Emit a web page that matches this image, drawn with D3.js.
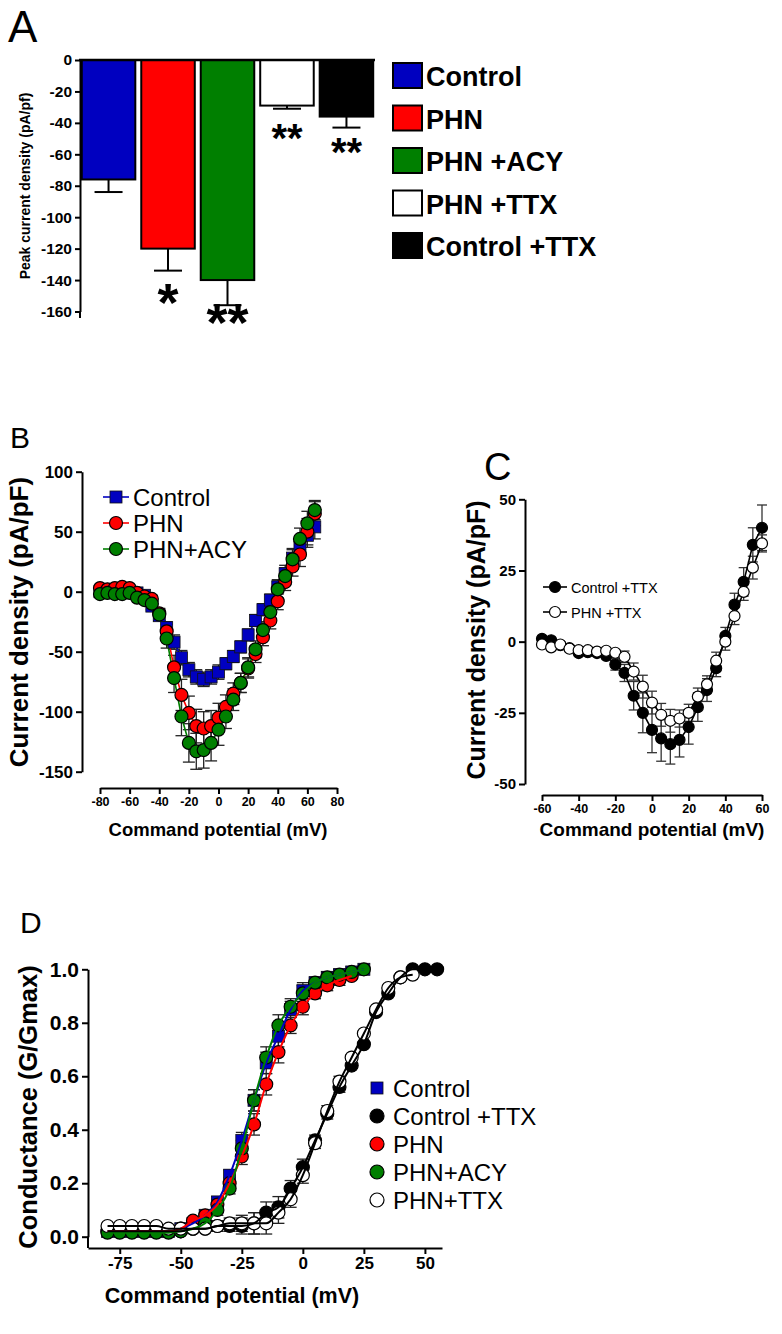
<!DOCTYPE html>
<html lang="en">
<head>
<meta charset="UTF-8">
<title>Peak current density and conductance</title>
<script src="https://cdn.jsdelivr.net/npm/d3@7/dist/d3.min.js"></script>
<style>
  body { margin: 0; background: #fff; }
  svg text { font-family: Arial, "Liberation Sans", sans-serif; }
</style>
</head>
<body>
<svg id="fig" width="782" height="1334"></svg>
<script>
// ---- Panel A: peak current density (bar chart)
const groupsA = ["Control", "PHN", "PHN +ACY", "PHN +TTX", "Control +TTX"];
const peakA = [-76, -120, -140, -29, -36];
const peakErrA = [8, 14, 16, 2, 7];
const starsA = ["", "*", "**", "**", "**"];
const colorsA = ["#0000c0", "#ff0000", "#007f00", "#ffffff", "#000000"];
const ticksA = [0, -20, -40, -60, -80, -100, -120, -140, -160];

// ---- Panel B: I-V curves
const voltB = [-80, -75, -70, -65, -60, -55, -50, -45, -40, -35, -30, -25, -20, -15, -10,
  -5, 0, 5, 10, 15, 20, 25, 30, 35, 40, 45, 50, 55, 60, 65];
const controlB = [0, 0, 0, 0, 0, -1, -3, -12, -20, -30, -42, -55, -65, -71, -73,
  -71, -67, -60, -54, -46, -36, -24, -15, -7, 4, 15, 28, 37, 47, 54];
const controlErrB = [1, 1, 1, 1, 1, 1, 2, 3, 4, 5, 6, 6, 6, 6, 6,
  6, 6, 5, 5, 5, 5, 5, 5, 5, 6, 7, 8, 9, 10, 10];
const phnB = [3, 2, 3, 4, 3, -1, -4, -6, -18, -33, -63, -86, -101, -112, -114,
  -112, -105, -96, -85, -76, -64, -52, -38, -24, -8, 8, 21, 31, 50, 65];
const phnErrB = [2, 2, 2, 2, 2, 2, 2, 3, 4, 6, 10, 13, 14, 14, 14,
  13, 12, 10, 9, 8, 8, 7, 7, 7, 7, 7, 8, 10, 11, 10];
const acyB = [-2, -1, -2, -2, -1, -5, -7, -10, -19, -39, -72, -104, -126, -133, -132,
  -126, -115, -104, -90, -76, -63, -48, -32, -17, 2, 13, 27, 44, 57, 68];
const acyErrB = [2, 2, 2, 2, 2, 2, 2, 3, 5, 8, 12, 16, 16, 15, 15,
  15, 13, 10, 9, 8, 8, 7, 7, 7, 7, 7, 8, 9, 10, 8];
const yTicksB = [100, 50, 0, -50, -100, -150];
const xTicksB = [-80, -60, -40, -20, 0, 20, 40, 60, 80];

// ---- Panel C: I-V curves with TTX
const voltC = [-60, -55, -50, -45, -40, -35, -30, -25, -20, -15, -10, -5, 0,
  5, 10, 15, 20, 25, 30, 35, 40, 45, 50, 55, 60];
const ctrlTtxC = [1, 0.5, -1.2, -2.3, -4, -3.7, -4, -5, -8, -11, -19, -25, -31,
  -34, -36, -34.5, -30, -23, -17, -9.3, 2, 13, 21, 34, 40];
const ctrlTtxErrC = [1, 1, 1, 1, 1, 1, 1, 1, 2, 3, 5, 7, 8,
  8, 7, 6, 6, 5, 4, 3, 3, 4, 5, 6, 8];
const phnTtxC = [-1, -2, -1, -2.5, -3, -3, -3.5, -3.2, -3.9, -5.3, -10.5, -15.8, -21.4,
  -25.7, -27.8, -27, -25, -19.3, -15, -6.7, 0, 9, 17.5, 26, 34.5];
const phnTtxErrC = [1, 1, 1, 1, 1, 1, 1, 1, 1, 2, 3, 4, 4,
  4, 4, 3, 3, 3, 3, 3, 3, 3, 3, 4, 3];
const yTicksC = [50, 25, 0, -25, -50];
const xTicksC = [-60, -40, -20, 0, 20, 40, 60];

// ---- Panel D: conductance (G/Gmax)
const voltD = [-80, -75, -70, -65, -60, -55, -50, -45, -40, -35, -30, -25, -20, -15,
  -10, -5, 0, 5, 10, 15, 20, 25, 30, 35, 40, 45, 50, 55];
const controlD = [0.02, 0.02, 0.02, 0.02, 0.02, 0.02, 0.03, 0.05, 0.08, 0.13, 0.23, 0.36,
  0.51, 0.65, 0.75, 0.85, 0.92, 0.95, 0.97, 0.98, 0.99, 1.0];
const phnD = [0.02, 0.02, 0.02, 0.02, 0.02, 0.02, 0.03, 0.06, 0.08, 0.12, 0.20, 0.30,
  0.42, 0.57, 0.69, 0.79, 0.86, 0.91, 0.94, 0.96, 0.975];
const acyD = [0.015, 0.015, 0.015, 0.015, 0.015, 0.015, 0.02, 0.03, 0.05, 0.10, 0.18, 0.33,
  0.51, 0.67, 0.79, 0.86, 0.91, 0.95, 0.97, 0.98, 0.99, 1.0];
const ctrlTtxD = [0.02, 0.02, 0.02, 0.02, 0.02, 0.02, 0.02, 0.03, 0.03, 0.04, 0.04, 0.04,
  0.05, 0.09, 0.11, 0.18, 0.26, 0.36, 0.46, 0.56, 0.64, 0.72, 0.84, 0.91, 0.97, 1.0, 1.0, 1.0];
const phnTtxD = [0.04, 0.04, 0.04, 0.04, 0.04, 0.03, 0.03, 0.03, 0.03, 0.04, 0.05, 0.05,
  0.05, 0.05, 0.09, 0.14, 0.23, 0.35, 0.47, 0.58, 0.67, 0.76, 0.85, 0.93, 0.97, 0.98];
const errD = [0.01, 0.01, 0.01, 0.01, 0.01, 0.01, 0.01, 0.01, 0.01, 0.02, 0.02, 0.03,
  0.04, 0.04, 0.04, 0.03, 0.03, 0.02, 0.02, 0.02, 0.01, 0.01, 0.01, 0.01, 0.01, 0.01, 0.01, 0.01];
const yTicksD = [0, 0.2, 0.4, 0.6, 0.8, 1.0];
const xTicksD = [-75, -50, -25, 0, 25, 50];

const BLUE = "#0000c0", RED = "#ff0000", GREEN = "#007f00";
const svg = d3.select("#fig");

function label(parent, x, y, s, size, weight, anchor, rot) {
  const t = parent.append("text")
    .attr("x", x).attr("y", y).text(s)
    .attr("font-size", size)
    .attr("font-weight", weight || "normal")
    .attr("text-anchor", anchor || "start");
  if (rot) t.attr("transform", `rotate(${rot},${x},${y})`);
  return t;
}

function styleAxis(g, size) {
  g.selectAll("path.domain, .tick line").attr("stroke", "#000").attr("stroke-width", 2);
  g.selectAll(".tick text").attr("font-size", size).attr("font-weight", "bold")
    .attr("fill", "#000").attr("font-family", "Arial, 'Liberation Sans', sans-serif");
}

function marker(g, cx, cy, shape, fill, size) {
  if (shape === "square") {
    g.append("rect").attr("x", cx - size).attr("y", cy - size)
      .attr("width", size * 2).attr("height", size * 2)
      .attr("fill", fill).attr("stroke", "#111").attr("stroke-width", 0.8);
  } else {
    g.append("circle").attr("cx", cx).attr("cy", cy).attr("r", size)
      .attr("fill", fill).attr("stroke", "#000").attr("stroke-width", 1.2);
  }
}

function errorBars(g, x, y, xs, ys, errs, cap, color) {
  xs.forEach((v, i) => {
    if (ys[i] === undefined || !errs[i]) return;
    const px = x(v), top = y(ys[i] + errs[i]), bot = y(ys[i] - errs[i]);
    g.append("line").attr("x1", px).attr("x2", px).attr("y1", top).attr("y2", bot)
      .attr("stroke", color).attr("stroke-width", 1.3);
    [top, bot].forEach(yy => g.append("line")
      .attr("x1", px - cap).attr("x2", px + cap).attr("y1", yy).attr("y2", yy)
      .attr("stroke", color).attr("stroke-width", 1.3));
  });
}

function seriesLine(g, x, y, xs, ys, color, width, curve) {
  const pts = ys.map((v, i) => [xs[i], v]);
  g.append("path").datum(pts)
    .attr("d", d3.line().x(d => x(d[0])).y(d => y(d[1])).curve(curve || d3.curveLinear))
    .attr("fill", "none").attr("stroke", color).attr("stroke-width", width);
}

function seriesMarks(g, x, y, xs, ys, shape, fill, size) {
  ys.forEach((v, i) => marker(g, x(xs[i]), y(v), shape, fill, size));
}

// ================= Panel A
const gA = svg.append("g");
label(gA, 8, 42, "A", 44);
const xA = d3.scaleBand().domain(groupsA).range([80, 375]).paddingInner(0.1).paddingOuter(0.03);
const yA = d3.scaleLinear().domain([-160, 0]).range([311.5, 60]);

groupsA.forEach((grp, i) => {
  const cx = xA(grp) + xA.bandwidth() / 2;
  const end = yA(peakA[i] - peakErrA[i]);
  gA.append("line").attr("x1", cx).attr("x2", cx).attr("y1", yA(peakA[i])).attr("y2", end)
    .attr("stroke", "#000").attr("stroke-width", 2);
  gA.append("line").attr("x1", cx - 14).attr("x2", cx + 14).attr("y1", end).attr("y2", end)
    .attr("stroke", "#000").attr("stroke-width", 2);
});
gA.selectAll("rect.bar").data(groupsA).join("rect")
  .attr("class", "bar")
  .attr("x", d => xA(d)).attr("width", xA.bandwidth())
  .attr("y", yA(0)).attr("height", (d, i) => yA(peakA[i]) - yA(0))
  .attr("fill", (d, i) => colorsA[i]).attr("stroke", "#000").attr("stroke-width", 2);

// significance stars sit just under each error bar
const starGapA = [0, 22, 8, 22, 18];
groupsA.forEach((grp, i) => {
  if (!starsA[i]) return;
  const cx = xA(grp) + xA.bandwidth() / 2;
  const fs = i < 3 ? 54 : 40;
  const centre = yA(peakA[i] - peakErrA[i]) + starGapA[i];
  label(gA, cx, centre + fs * 0.52, starsA[i], fs, "bold", "middle");
});

const axA = gA.append("g").attr("transform", "translate(80,0)")
  .call(d3.axisLeft(yA).tickValues(ticksA).tickFormat(d => String(d)).tickSize(5).tickSizeOuter(0));
styleAxis(axA, 15.5);
gA.append("line").attr("x1", 80).attr("x2", 80).attr("y1", yA(-160)).attr("y2", 318)
  .attr("stroke", "#000").attr("stroke-width", 2);
gA.append("line").attr("x1", 79).attr("x2", 375).attr("y1", yA(0)).attr("y2", yA(0))
  .attr("stroke", "#000").attr("stroke-width", 2.5);
label(gA, 30, 186, "Peak current density (pA/pf)", 14, "bold", "middle", -90);

// legend A
groupsA.forEach((grp, i) => {
  const top = 63 + i * 42.5;
  gA.append("rect").attr("x", 393).attr("y", top).attr("width", 29).attr("height", 25)
    .attr("fill", colorsA[i]).attr("stroke", "#000").attr("stroke-width", 2);
  label(gA, 426, top + 23, grp, 27, "bold");
});

// ================= Panel B
const gB = svg.append("g");
label(gB, 10, 448, "B", 30);
const xB = d3.scaleLinear().domain([-80, 80]).range([100, 337]);
const yB = d3.scaleLinear().domain([-150, 100]).range([771.7, 471.7]);

const ayB = gB.append("g").attr("transform", "translate(82,0)")
  .call(d3.axisLeft(yB).tickValues(yTicksB).tickFormat(d => String(d)).tickSize(6).tickSizeOuter(0));
styleAxis(ayB, 17);
const axB = gB.append("g").attr("transform", "translate(0,788)")
  .call(d3.axisBottom(xB).tickValues(xTicksB).tickFormat(d => String(d)).tickSize(6).tickSizeOuter(0));
styleAxis(axB, 12.5);
label(gB, 218, 836, "Command potential (mV)", 18.5, "bold", "middle");
label(gB, 28, 622, "Current density (pA/pF)", 26, "bold", "middle", -90);

errorBars(gB, xB, yB, voltB, controlB, controlErrB, 6, "#222");
errorBars(gB, xB, yB, voltB, phnB, phnErrB, 6, "#222");
errorBars(gB, xB, yB, voltB, acyB, acyErrB, 6, "#222");
seriesLine(gB, xB, yB, voltB, controlB, BLUE, 1.6);
seriesLine(gB, xB, yB, voltB, phnB, RED, 1.6);
seriesLine(gB, xB, yB, voltB, acyB, GREEN, 1.6);
seriesMarks(gB, xB, yB, voltB, controlB, "square", BLUE, 6);
seriesMarks(gB, xB, yB, voltB, phnB, "circle", RED, 6.5);
seriesMarks(gB, xB, yB, voltB, acyB, "circle", GREEN, 6.5);

[["Control", BLUE, "square"], ["PHN", RED, "circle"], ["PHN+ACY", GREEN, "circle"]].forEach((d, i) => {
  const cy = 497 + i * 26;
  gB.append("line").attr("x1", 103).attr("x2", 129).attr("y1", cy).attr("y2", cy)
    .attr("stroke", d[1]).attr("stroke-width", 1.6);
  marker(gB, 116, cy, d[2], d[1], d[2] === "square" ? 6 : 6.5);
  label(gB, 133, cy + 8.5, d[0], 24);
});

// ================= Panel C
const gC = svg.append("g");
label(gC, 484, 480, "C", 38);
const xC = d3.scaleLinear().domain([-60, 60]).range([542, 762]);
const yC = d3.scaleLinear().domain([-50, 50]).range([784, 499.3]);

const ayC = gC.append("g").attr("transform", "translate(525,0)")
  .call(d3.axisLeft(yC).tickValues(yTicksC).tickFormat(d => String(d)).tickSize(6).tickSizeOuter(0));
styleAxis(ayC, 15);
const axC = gC.append("g").attr("transform", "translate(0,795)")
  .call(d3.axisBottom(xC).tickValues(xTicksC).tickFormat(d => String(d)).tickSize(6).tickSizeOuter(0));
styleAxis(axC, 12.5);
label(gC, 652, 836, "Command potential (mV)", 19, "bold", "middle");
label(gC, 485, 640, "Current density (pA/pF)", 25, "bold", "middle", -90);

errorBars(gC, xC, yC, voltC, ctrlTtxC, ctrlTtxErrC, 5, "#333");
errorBars(gC, xC, yC, voltC, phnTtxC, phnTtxErrC, 5, "#333");
seriesLine(gC, xC, yC, voltC, ctrlTtxC, "#000", 1.6);
seriesLine(gC, xC, yC, voltC, phnTtxC, "#000", 1.6);
seriesMarks(gC, xC, yC, voltC, ctrlTtxC, "circle", "#000", 5.5);
seriesMarks(gC, xC, yC, voltC, phnTtxC, "circle", "#fff", 5.5);

[["Control +TTX", "#000"], ["PHN +TTX", "#fff"]].forEach((d, i) => {
  const cy = 587 + i * 25;
  gC.append("line").attr("x1", 543).attr("x2", 567).attr("y1", cy).attr("y2", cy)
    .attr("stroke", "#000").attr("stroke-width", 1.6);
  marker(gC, 555, cy, "circle", d[1], 5.5);
  label(gC, 571, cy + 5.5, d[0], 14.5);
});

// ================= Panel D
const gD = svg.append("g");
label(gD, 20, 933, "D", 30);
const xD = d3.scaleLinear().domain([-88, 57]).range([88, 442]);
const yD = d3.scaleLinear().domain([0, 1]).range([1236.7, 969.3]);

const ayD = gD.append("g").attr("transform", "translate(88,0)")
  .call(d3.axisLeft(yD).tickValues(yTicksD).tickFormat(d3.format(".1f")).tickSize(6).tickSizeOuter(0));
styleAxis(ayD, 21);
gD.append("line").attr("x1", 88).attr("x2", 88).attr("y1", yD(0)).attr("y2", 1248)
  .attr("stroke", "#000").attr("stroke-width", 2);
const axD = gD.append("g").attr("transform", "translate(0,1248)")
  .call(d3.axisBottom(xD).tickValues(xTicksD).tickFormat(d => String(d)).tickSize(6).tickSizeOuter(0));
styleAxis(axD, 17);
label(gD, 232, 1303, "Command potential (mV)", 21.5, "bold", "middle");
label(gD, 37, 1107, "Conductance (G/Gmax)", 25.5, "bold", "middle", -90);

errorBars(gD, xD, yD, voltD, controlD, errD, 6, "#222");
errorBars(gD, xD, yD, voltD, ctrlTtxD, errD, 6, "#222");
errorBars(gD, xD, yD, voltD, phnD, errD, 6, "#222");
errorBars(gD, xD, yD, voltD, acyD, errD, 6, "#222");
errorBars(gD, xD, yD, voltD, phnTtxD, errD, 6, "#222");
seriesMarks(gD, xD, yD, voltD, controlD, "square", BLUE, 6);
seriesMarks(gD, xD, yD, voltD, ctrlTtxD, "circle", "#000", 6.5);
seriesMarks(gD, xD, yD, voltD, phnD, "circle", RED, 6.5);
seriesMarks(gD, xD, yD, voltD, acyD, "circle", GREEN, 6.5);
seriesMarks(gD, xD, yD, voltD, phnTtxD, "circle", "#fff", 6.5);
seriesLine(gD, xD, yD, voltD, controlD, BLUE, 2, d3.curveMonotoneX);
seriesLine(gD, xD, yD, voltD, phnD, RED, 2, d3.curveMonotoneX);
seriesLine(gD, xD, yD, voltD, acyD, GREEN, 2, d3.curveMonotoneX);
seriesLine(gD, xD, yD, voltD, ctrlTtxD, "#000", 2, d3.curveMonotoneX);
seriesLine(gD, xD, yD, voltD, phnTtxD, "#000", 2, d3.curveMonotoneX);

[["Control", BLUE, "square"], ["Control +TTX", "#000", "circle"], ["PHN", RED, "circle"],
 ["PHN+ACY", GREEN, "circle"], ["PHN+TTX", "#fff", "circle"]].forEach((d, i) => {
  const cy = 1088 + i * 28;
  marker(gD, 377, cy, d[2], d[1], d[2] === "square" ? 6 : 7);
  label(gD, 393, cy + 8.5, d[0], 24);
});
</script>
</body>
</html>
